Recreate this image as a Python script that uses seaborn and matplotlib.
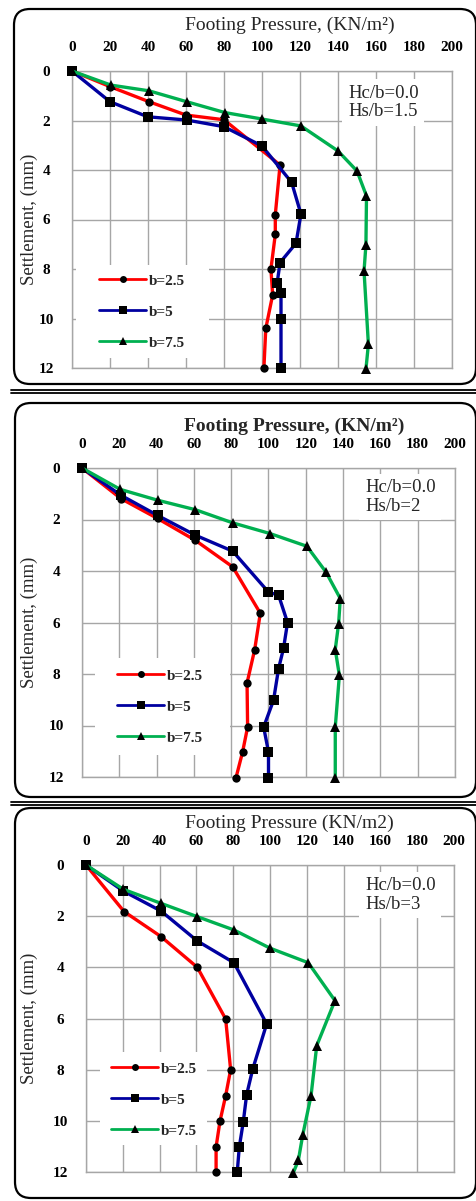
import matplotlib
matplotlib.use("Agg")
import matplotlib.pyplot as plt
import pandas as pd
import seaborn as sns
from matplotlib.patches import FancyBboxPatch, Rectangle
from matplotlib.lines import Line2D

# ---- data -------------------------------------------------------------
pressure_ticks = list(range(0, 201, 20))
settlement_ticks = list(range(0, 13, 2))
width_labels = ["b=2.5", "b=5", "b=7.5"]
case_labels = ["Hc/b=0.0\nHs/b=1.5", "Hc/b=0.0\nHs/b=2", "Hc/b=0.0\nHs/b=3"]
titles = ["Footing Pressure, (KN/m\u00b2)",
          "Footing Pressure, (KN/m\u00b2)",
          "Footing Pressure (KN/m2)"]

# Hs/b = 1.5
p1_b25_x = [0, 20, 40.5, 60, 80, 109.5, 107, 107, 104.7, 105.6, 102, 101]
p1_b25_y = [0, 0.63, 1.24, 1.78, 1.97, 3.8, 5.8, 6.6, 8.0, 9.05, 10.4, 12.0]
p1_b5_x = [0, 20, 39.8, 60.3, 80, 100, 115.6, 120.5, 117.9, 109.5, 108, 110, 110, 110]
p1_b5_y = [0, 1.24, 1.85, 1.98, 2.25, 3.03, 4.5, 5.78, 6.96, 7.74, 8.55, 8.98, 10.0, 12.0]
p1_b75_x = [0, 20.5, 40.5, 60.3, 80.5, 100, 120.5, 140, 150, 155, 154.7, 153.7, 156, 154.7]
p1_b75_y = [0, 0.57, 0.8, 1.24, 1.68, 1.94, 2.22, 3.23, 4.04, 5.05, 7.03, 8.08, 11.04, 12.05]

# Hs/b = 2
p2_b25_x = [0, 20.9, 40.5, 60.8, 80.8, 95.6, 92.6, 88.5, 88.8, 86.1, 82.6]
p2_b25_y = [0, 1.19, 1.96, 2.81, 3.84, 5.64, 7.05, 8.35, 10.06, 11.03, 12.02]
p2_b5_x = [0, 20.9, 40.5, 60.8, 80.8, 100, 105.4, 110.2, 108.1, 105.4, 102.7, 97.4, 100, 100]
p2_b5_y = [0, 1.06, 1.84, 2.61, 3.23, 4.82, 4.94, 6.0, 6.99, 7.79, 9.02, 10.06, 11.03, 12.02]
p2_b75_x = [0, 20.5, 40.5, 60.8, 80.8, 101, 120.6, 130.8, 138.5, 137.6, 135.8, 138, 135.8, 135.8]
p2_b75_y = [0, 0.83, 1.25, 1.62, 2.13, 2.55, 3.04, 4.04, 5.07, 6.04, 7.05, 8.05, 10.06, 12.02]

# Hs/b = 3
p3_b25_x = [0, 20.7, 40.8, 60.5, 75.9, 78.6, 75.9, 72.8, 70.7, 70.7]
p3_b25_y = [0, 1.82, 2.8, 4.0, 6.02, 8.0, 9.02, 10.02, 11.02, 12.0]
p3_b5_x = [0, 20.3, 40.8, 60.5, 80.4, 98.2, 90.6, 87.3, 85.5, 83.3, 82.2]
p3_b5_y = [0, 1.02, 1.8, 2.97, 3.82, 6.21, 7.98, 8.98, 10.03, 11.03, 12.0]
p3_b75_x = [0, 20.3, 40.8, 60.5, 80.4, 100, 120.8, 135.3, 125.4, 122.3, 117.8, 115.4, 112.7]
p3_b75_y = [0, 0.95, 1.5, 2.02, 2.54, 3.25, 3.82, 5.3, 7.06, 9.02, 10.55, 11.55, 12.02]

series = [
    [(p1_b25_x, p1_b25_y), (p1_b5_x, p1_b5_y), (p1_b75_x, p1_b75_y)],
    [(p2_b25_x, p2_b25_y), (p2_b5_x, p2_b5_y), (p2_b75_x, p2_b75_y)],
    [(p3_b25_x, p3_b25_y), (p3_b5_x, p3_b5_y), (p3_b75_x, p3_b75_y)],
]

# ---- styling ----------------------------------------------------------
colors = ["#FF0000", "#0000A0", "#00B050"]
markers = ["o", "s", "^"]
marker_sizes = [6.0, 7.5, 7.5]
legend_marker_sizes = [5.0, 6.0, 6.0]
grid_color = "#A6A6A6"

W, H = 477, 1201


def fx(x):
    return x / W


def fy(y):
    return 1 - y / H


# pixel layout of each panel
layout = [
    dict(axes=(72, 452, 71, 368), box=(14, 476, 9, 384), title=(290, 25, "normal"),
         note=(348, 102.5), legend=(99, 273), legend_bg=(76, 209, 265, 358)),
    dict(axes=(82, 455, 468, 777), box=(15, 476, 403, 797), title=(294, 426, "bold"),
         note=(365, 497), legend=(117, 668), legend_bg=(95, 230, 658, 755)),
    dict(axes=(86, 454, 865, 1172), box=(15, 476, 808, 1198), title=(289, 823, "normal"),
         note=(365, 895), legend=(111, 1061), legend_bg=(100, 207, 1052, 1145)),
]

sns.set_theme(style="whitegrid")
plt.rcParams["font.family"] = ["Liberation Serif", "DejaVu Serif"]

fig = plt.figure(figsize=(W / 100, H / 100), dpi=100)
fig.patch.set_facecolor("white")

for k, lay in enumerate(layout):
    L, R, T, B = lay["axes"]
    ax = fig.add_axes([fx(L), fy(B), (R - L) / W, (B - T) / H])
    ax.set_facecolor("white")

    for j, (xs, ys) in enumerate(series[k]):
        df = pd.DataFrame({"pressure": xs, "settlement": ys})
        sns.lineplot(data=df, x="pressure", y="settlement", sort=False,
                     estimator=None, ax=ax, color=colors[j], lw=2.4,
                     marker=markers[j], markersize=marker_sizes[j],
                     markerfacecolor="black", markeredgecolor="black",
                     markeredgewidth=0, clip_on=False, zorder=3)

    ax.set_xlim(0, 200)
    ax.set_ylim(12, 0)
    ax.set_xticks(pressure_ticks)
    ax.set_yticks(settlement_ticks)
    ax.xaxis.tick_top()
    ax.set_xlabel("")
    ax.set_ylabel("")
    ax.grid(True, color=grid_color, lw=1.0)
    for sp in ax.spines.values():
        sp.set_color(grid_color)
        sp.set_linewidth(1.0)
    ax.tick_params(axis="x", length=0, pad=12, labelsize=11, labelcolor="black")
    ax.tick_params(axis="y", length=0, pad=18.5, labelsize=11, labelcolor="black")
    for lab in ax.get_xticklabels() + ax.get_yticklabels():
        lab.set_fontweight("bold")
    for lab in ax.get_yticklabels():
        lab.set_horizontalalignment("center")

    # white background behind the legend
    lx0, lx1, ly0, ly1 = lay["legend_bg"]
    ax.add_patch(Rectangle((fx(lx0), fy(ly1)), (lx1 - lx0) / W, (ly1 - ly0) / H,
                           transform=fig.transFigure, facecolor="white",
                           edgecolor="none", zorder=1))
    handles = [Line2D([], [], color=colors[j], lw=2.0, marker=markers[j],
                      markersize=legend_marker_sizes[j], markerfacecolor="black",
                      markeredgecolor="black", markeredgewidth=0)
               for j in range(3)]
    lgx, lgy = lay["legend"]
    leg = ax.legend(handles, width_labels, loc="upper left",
                    bbox_to_anchor=(fx(lgx), fy(lgy)),
                    bbox_transform=fig.transFigure, frameon=False,
                    borderpad=0, borderaxespad=0, handlelength=3.1,
                    handleheight=1.0, handletextpad=0.15, labelspacing=1.05,
                    prop=dict(family="Liberation Serif", weight="bold", size=11))
    ax.set_xlim(0, 200)
    ax.set_ylim(12, 0)

    # axis titles
    tx, ty, tw = lay["title"]
    fig.text(fx(tx), fy(ty), titles[k], ha="center", va="center",
             fontsize=14, fontweight=tw)
    fig.text(fx(29), fy((T + B) / 2), "Settlement, (mm)", rotation=90,
             ha="center", va="center", fontsize=13.5)

    # case annotation
    nx, ny = lay["note"]
    fig.text(fx(nx), fy(ny), case_labels[k], ha="left", va="center",
             fontsize=13.5, linespacing=1.1,
             bbox=dict(facecolor="white", edgecolor="none", pad=4))

    # rounded frame around the panel
    bx0, bx1, by0, by1 = lay["box"]
    frame = FancyBboxPatch((bx0 / 100, (H - by1) / 100), (bx1 - bx0) / 100,
                           (by1 - by0) / 100,
                           boxstyle="round,pad=0,rounding_size=0.16",
                           transform=fig.dpi_scale_trans, fill=False,
                           edgecolor="black", lw=1.6)
    fig.patches.append(frame)

# double rules between panels
for y in (390, 393.5, 801.5, 804.5):
    fig.add_artist(Line2D([fx(11), fx(477)], [fy(y), fy(y)],
                          transform=fig.transFigure, color="black", lw=1.3))

fig.savefig("out.png", dpi=100, facecolor="white")
